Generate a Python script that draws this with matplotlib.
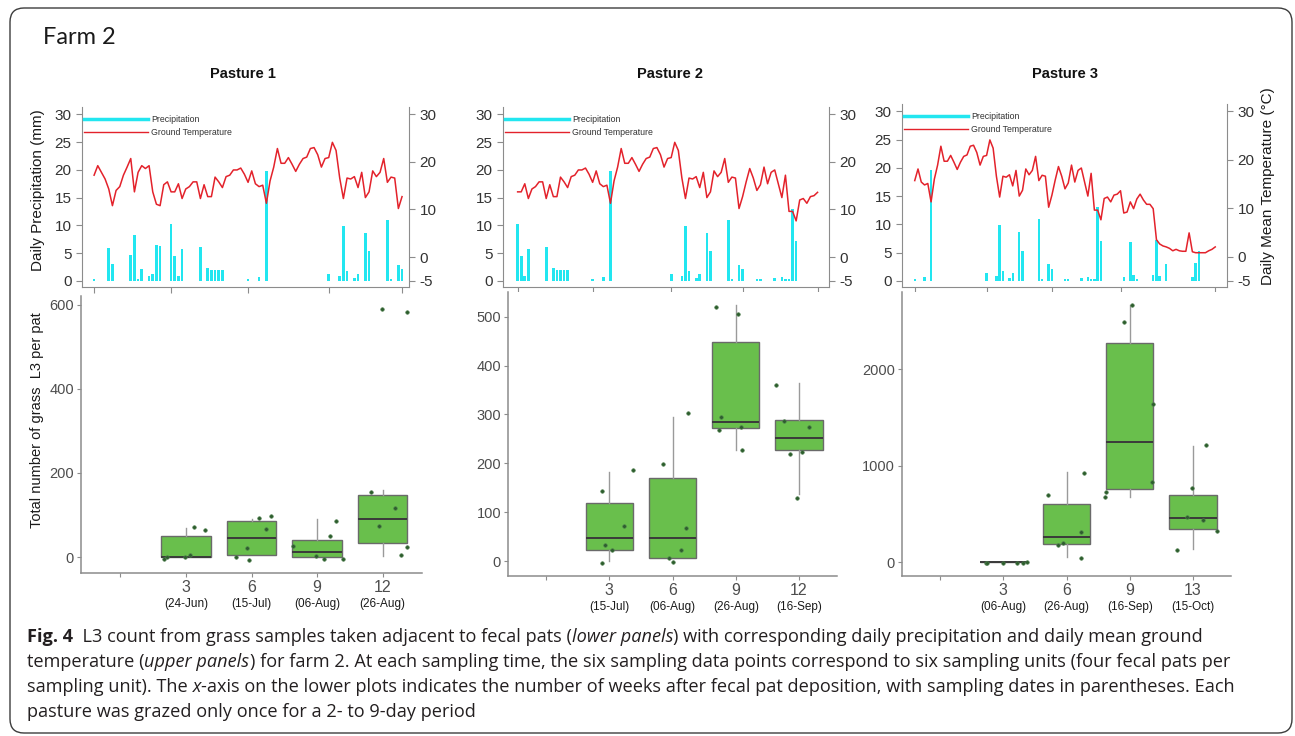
import numpy as np
import matplotlib
matplotlib.use("Agg")
import matplotlib.pyplot as plt
from matplotlib.patches import FancyBboxPatch
from matplotlib.lines import Line2D

W, H, DPI = 1295, 736, 100
plt.rcParams["font.family"] = ["Liberation Sans", "DejaVu Sans"]
plt.rcParams["axes.unicode_minus"] = False

# ---- Daily weather, day 0 = 03-Jun --------------------------------------------
TEMP_C = [
    17.2, 19.2, 17.8, 16.4, 14.3, 10.8, 14.0, 14.8, 17.2, 18.9,
    20.7, 13.7, 17.8, 19.2, 18.6, 19.2, 13.7, 11.1, 10.8, 15.2,
    15.8, 13.7, 13.7, 15.4, 12.3, 14.3, 14.8, 15.8, 15.8, 12.3,
    15.2, 12.7, 12.7, 16.8, 15.8, 14.6, 16.9, 17.2, 18.3, 18.3,
    18.7, 17.4, 15.7, 18.1, 15.4, 14.8, 15.1, 11.3, 16.0, 18.9,
    22.8, 19.7, 19.7, 20.9, 19.5, 18.0, 19.5, 20.7, 21.0, 22.8,
    23.0, 21.5, 18.9, 20.7, 20.9, 24.1, 22.4, 16.6, 12.3, 16.6,
    16.4, 16.9, 14.6, 17.8, 12.5, 13.7, 18.1, 16.9, 17.8, 20.7,
    15.7, 16.8, 16.6, 10.2, 12.7, 15.8, 18.6, 16.6, 14.0, 15.2,
    18.9, 15.4, 17.8, 18.3, 15.4, 12.5, 17.2, 9.6, 9.6, 7.6,
    12.0, 12.3, 11.3, 12.7, 12.9, 13.6, 9.0, 9.2, 11.3, 9.9,
    11.9, 12.9, 11.7, 10.8, 10.8, 9.9, 3.5, 2.6, 2.2, 2.0,
    1.7, 1.2, 1.5, 1.2, 1.1, 1.1, 4.9, 1.0, 0.8, 0.8,
    0.8, 0.8, 1.2, 1.5, 2.0,
]
RAIN_DAY = [0, 4, 5, 10, 11, 12, 13, 15, 16, 17, 18, 21, 22, 23, 24, 29, 31, 32,
            33, 34, 35, 42, 45, 47, 64, 67, 68, 69, 71, 72, 74, 75, 80, 81, 83, 84,
            88, 89, 93, 95, 96, 97, 98, 99, 106, 108, 109, 110, 115, 116, 117,
            119, 127, 128, 129]
RAIN_MM = [0.4, 6.0, 3.1, 4.6, 8.3, 0.4, 2.1, 0.9, 1.3, 6.5, 6.3, 10.3, 4.4, 0.8,
           5.7, 6.1, 2.3, 1.9, 1.9, 1.9, 1.9, 0.4, 0.7, 19.7, 1.3, 0.9, 9.9, 1.7,
           0.5, 1.3, 8.7, 5.3, 10.9, 0.4, 2.9, 2.1, 0.3, 0.3, 0.5, 0.7, 0.4, 0.4,
           13.0, 7.1, 0.7, 6.9, 1.1, 0.4, 1.1, 7.2, 0.9, 2.9, 0.7, 3.1, 5.3]

PASTURES = ["Pasture 1", "Pasture 2", "Pasture 3"]
PERIOD = [(0, 84), (21, 105), (42, 134)]                    # first/last day shown
SAMPLE_DAYS = [[0, 21, 42, 64, 84], [21, 42, 64, 84, 105], [42, 64, 84, 105, 134]]

# ---- L3 counts (box stats as drawn + jittered points) ---------------------------
WEEKS = [["3", "6", "9", "12"], ["3", "6", "9", "12"], ["3", "6", "9", "13"]]
DATES = [["(24-Jun)", "(15-Jul)", "(06-Aug)", "(26-Aug)"],
         ["(15-Jul)", "(06-Aug)", "(26-Aug)", "(16-Sep)"],
         ["(06-Aug)", "(26-Aug)", "(16-Sep)", "(15-Oct)"]]

Q1 = [[0, 5, 0, 34], [23, 6, 273, 227], [0, 186, 759, 348]]
MED = [[1, 46, 12, 91], [47, 47, 285, 251], [0, 265, 1245, 459]]
Q3 = [[51, 86, 40, 147], [119, 170, 449, 289], [0, 610, 2276, 700]]
WLO = [[0, 5, 0, 2], [0, 6, 228, 137], [0, 52, 683, 138]]
WHI = [[69, 90, 90, 159], [183, 295, 524, 364], [0, 938, 2669, 1210]]

P1_PTS = [[-5, -1, 0, 4, 71, 64], [0, -8, 21, 92, 66, 98],
          [27, 3, -5, 50, 86, -4], [155, 75, 116, 4, 24, 591, 584]]
P1_JIT = [[-0.33, -0.29, -0.02, 0.06, 0.13, 0.29], [-0.23, -0.04, -0.07, 0.11, 0.22, 0.30],
          [-0.36, -0.02, 0.11, 0.19, 0.29, 0.40], [-0.18, -0.06, 0.19, 0.28, 0.37, -0.01, 0.37]]
P2_PTS = [[143, -4, 32, 23, 72, 187], [199, 7, -1, 23, 67, 303],
          [520, 505, 295, 269, 275, 228], [360, 286, 275, 220, 224, 129]]
P2_JIT = [[-0.11, -0.11, -0.06, 0.05, 0.24, 0.38], [-0.15, -0.06, 0.0, 0.13, 0.22, 0.25],
          [-0.31, 0.03, -0.23, -0.26, 0.09, 0.10], [-0.36, -0.23, 0.16, -0.15, 0.04, -0.03]]
P3_PTS = [[-7, -7, -3, -3, -3, 3], [703, 183, 203, 317, 48, 928],
          [2669, 2490, 1638, 838, 734, 679], [1214, 772, 472, 441, 324, 131]]
P3_JIT = [[-0.27, -0.26, 0.0, 0.21, 0.31, 0.37], [-0.30, -0.13, -0.05, 0.23, 0.23, 0.27],
          [0.03, -0.09, 0.37, 0.35, -0.38, -0.39], [0.2, -0.01, -0.1, 0.16, 0.38, -0.26]]
PTS = [P1_PTS, P2_PTS, P3_PTS]
JIT = [P1_JIT, P2_JIT, P3_JIT]

CAPTION = [
    [("Fig. 4", "bold", "normal"),
     ("  L3 count from grass samples taken adjacent to fecal pats (", "normal", "normal"),
     ("lower panels", "normal", "italic"),
     (") with corresponding daily precipitation and daily mean ground", "normal", "normal")],
    [("temperature (", "normal", "normal"), ("upper panels", "normal", "italic"),
     (") for farm 2. At each sampling time, the six sampling data points correspond to "
      "six sampling units (four fecal pats per", "normal", "normal")],
    [("sampling unit). The", "normal", "normal"), (" x", "normal", "italic"),
     ("-axis on the lower plots indicates the number of weeks after fecal pat deposition, "
      "with sampling dates in parentheses. Each", "normal", "normal")],
    [("pasture was grazed only once for a 2- to 9-day period", "normal", "normal")],
]

# ---- Layout (pixels) --------------------------------------------------------
TOP_RECT = [(82, 107, 409, 287), (503, 107, 829, 287), (902, 104, 1227, 287)]
BOT_RECT = [(81, 296, 422, 573), (508, 292, 837, 576), (902, 292, 1231, 576)]
TOP_XLIM = [(-3.3, 85.9), (16.9, 108.2), (38.1, 137.6)]
BOT_YLIM = [(-38, 621), (-30.4, 550.4), (-141, 2803)]
BOT_YTICKS = [[0, 200, 400, 600], [0, 100, 200, 300, 400, 500], [0, 1000, 2000]]
TITLE_X = [243, 670, 1065]

CYAN, RED = "#22E6F0", "#E3222B"
GREEN, BOX_EDGE, WHISK, MEDC, DOT = "#69BF4C", "#6A6A6A", "#9A9A9A", "#3A3A3A", "#2E5E2E"
SPINE, TICKC = "#8C8C8C", "#4D4D4D"


def px_rect(l, t, r, b):
    return [l / W, 1 - b / H, (r - l) / W, (b - t) / H]


fig = plt.figure(figsize=(W / DPI, H / DPI), dpi=DPI)
bg = fig.add_axes([0, 0, 1, 1], zorder=-1)
bg.set_xlim(0, W)
bg.set_ylim(H, 0)
bg.axis("off")
bg.add_patch(FancyBboxPatch((10, 8), 1282, 725, boxstyle="round,pad=0,rounding_size=14",
                            fill=False, ec="#3C3C3C", lw=1.0))
bg.text(43, 38, "Farm 2", fontsize=17, family=["Lato", "DejaVu Sans"],
        va="center", ha="left", color="#1A1A1A")

days_all = np.arange(len(TEMP_C))
rain_day = np.array(RAIN_DAY)
rain_mm = np.array(RAIN_MM)
temp = np.array(TEMP_C)

for i in range(3):
    bg.text(TITLE_X[i], 74, PASTURES[i], fontsize=10.5, fontweight="bold",
            ha="center", va="center", color="#111111")

    # ---- upper panel: precipitation bars + ground temperature line ----
    d0, d1 = PERIOD[i]
    ax = fig.add_axes(px_rect(*TOP_RECT[i]))
    m = (rain_day >= d0) & (rain_day <= d1)
    ax.bar(rain_day[m], rain_mm[m], width=0.75, color=CYAN, zorder=2)
    ax.set_xlim(*TOP_XLIM[i])
    ax.set_ylim(-1.1, 31.3)
    ax.set_xticks(SAMPLE_DAYS[i])
    ax.set_xticklabels([])
    ax.set_yticks(range(0, 31, 5))
    ax2 = ax.twinx()
    ax2.plot(days_all[d0:d1 + 1], temp[d0:d1 + 1], color=RED, lw=1.1)
    ax2.set_ylim(-6.28, 31.52)
    ax2.set_yticks([-5, 0, 10, 20, 30])
    for a in (ax, ax2):
        a.spines["top"].set_visible(False)
        for s in a.spines.values():
            s.set_color(SPINE)
        a.tick_params(colors=SPINE, labelcolor="#333333", labelsize=11, length=4)
    ax.spines["right"].set_visible(False)
    ax2.spines["left"].set_visible(False)
    ax2.spines["bottom"].set_visible(False)
    handles = [Line2D([0], [0], color=CYAN, lw=2.5, label="Precipitation"),
               Line2D([0], [0], color=RED, lw=1.0, label="Ground Temperature")]
    ax2.legend(handles=handles, loc="upper left", bbox_to_anchor=(0.0, 0.965),
               frameon=False, fontsize=6.3, handlelength=7.3, handletextpad=0.4,
               labelspacing=0.45, borderaxespad=0.1, borderpad=0.1,
               labelcolor="#333333")

    # ---- lower panel: L3 boxplots ----
    bx = fig.add_axes(px_rect(*BOT_RECT[i]))
    stats = [dict(med=MED[i][k], q1=Q1[i][k], q3=Q3[i][k], whislo=WLO[i][k],
                  whishi=WHI[i][k], fliers=[]) for k in range(4)]
    pos = [2, 3, 4, 5]
    bx.bxp(stats, positions=pos, widths=0.75, patch_artist=True, showcaps=False,
           boxprops=dict(facecolor=GREEN, edgecolor=BOX_EDGE, lw=1.0),
           medianprops=dict(color=MEDC, lw=1.4),
           whiskerprops=dict(color=WHISK, lw=1.0))
    for k in range(4):
        bx.plot(pos[k] + np.array(JIT[i][k]), PTS[i][k], "o", ms=2.6,
                color=DOT, mec="#4F7F4F", mew=0.4, zorder=5)
    bx.set_xlim(0.4, 5.6)
    bx.set_ylim(*BOT_YLIM[i])
    bx.set_yticks(BOT_YTICKS[i])
    bx.set_xticks([1] + pos)
    bx.set_xticklabels([""] + WEEKS[i])
    for k in range(4):
        bx.annotate(DATES[i][k], xy=(pos[k], 0), xycoords=("data", "axes fraction"),
                    xytext=(0, -31), textcoords="offset pixels", ha="center",
                    va="center", fontsize=8.5, color="#1A1A1A", annotation_clip=False)
    for s in ["top", "right"]:
        bx.spines[s].set_visible(False)
    for s in ["left", "bottom"]:
        bx.spines[s].set_color(SPINE)
        bx.spines[s].set_linewidth(1.1)
    bx.tick_params(colors=SPINE, labelcolor=TICKC, labelsize=10.5, length=3, pad=2)
    bx.tick_params(axis="x", labelsize=11.5)

# ---- axis titles ------------------------------------------------------------
bg.text(38, 190, "Daily Precipitation (mm)", rotation=90, fontsize=11,
        ha="center", va="center", color="#1A1A1A")
bg.text(1268, 186, "Daily Mean Temperature (°C)", rotation=90, fontsize=11,
        ha="center", va="center", color="#1A1A1A")
bg.text(37, 420, "Total number of grass  L3 per pat", rotation=90, fontsize=10.5,
        ha="center", va="center", color="#1A1A1A")

# ---- caption ----------------------------------------------------------------
CAP_FONT = ["Open Sans", "DejaVu Sans"]
renderer = fig.canvas.get_renderer()


def draw_runs(x0, y, runs, size, keep=True):
    x = x0
    for txt, weight, style in runs:
        t = bg.text(x, y, txt, fontsize=size, fontweight=weight, fontstyle=style,
                    family=CAP_FONT, ha="left", va="center", color="#231F20")
        x += t.get_window_extent(renderer).width
        if not keep:
            t.remove()
    return x - x0


cap_size = 10 * 1202 / draw_runs(27, 0, CAPTION[1], 10, keep=False)
for j, runs in enumerate(CAPTION):
    draw_runs(27, 637 + 25 * j, runs, cap_size)

fig.savefig("out.png", dpi=DPI)
